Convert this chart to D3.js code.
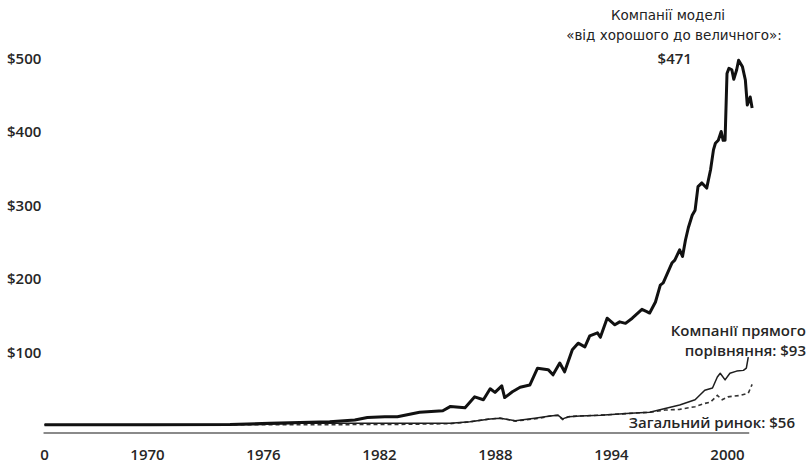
<!DOCTYPE html>
<html>
<head>
<meta charset="utf-8">
<script src="https://cdn.jsdelivr.net/npm/d3@7"></script>
<style>
  html, body { margin: 0; padding: 0; background: #fff; }
  svg { display: block; }
  .tick-label { font-family: "Open Sans", sans-serif; font-weight: 600; font-size: 15px; fill: #262626; }
  .note { font-family: "DejaVu Sans", sans-serif; font-size: 13.5px; fill: #222; }
  .note-bold { font-family: "Open Sans", sans-serif; font-weight: 600; font-size: 15px; fill: #262626; }
</style>
</head>
<body>
<svg id="chart" width="808" height="465"></svg>
<script>
// Cumulative value of $1 invested, by year
const greatYears = [1964.7, 1970.15, 1974.3, 1976.35, 1977.9, 1979.45, 1980.75, 1981.4, 1982.3, 1982.95,
  1984.1, 1985.3, 1985.7, 1986.45, 1986.95, 1987.4, 1987.75, 1988.0, 1988.35, 1988.5,
  1988.9, 1989.3, 1989.8, 1990.2, 1990.75, 1991.0, 1991.35, 1991.6, 1992.0, 1992.3,
  1992.65, 1992.9, 1993.3, 1993.45, 1993.8, 1994.2, 1994.45, 1994.75, 1995.1, 1995.6,
  1995.85, 1996.0, 1996.3, 1996.55, 1996.7, 1997.15, 1997.3, 1997.55, 1997.7, 1997.85,
  1998.0, 1998.2, 1998.35, 1998.5, 1998.7, 1998.95, 1999.15, 1999.3, 1999.4, 1999.55,
  1999.7, 1999.8, 1999.9, 2000.0, 2000.1, 2000.25, 2000.35, 2000.5, 2000.6, 2000.8,
  2000.95, 2001.05, 2001.2, 2001.3];
const greatValues = [1, 1, 1.5, 3, 4, 5, 7.5, 11, 12, 12,
  18, 20, 26, 24, 39, 35, 50, 45, 54, 38,
  46, 52, 55, 78, 76, 69, 85, 73, 103, 112,
  107, 122, 126, 120, 146, 137, 141, 139, 146, 158,
  155, 153, 168, 191, 194, 221, 225, 239, 230, 252,
  269, 286, 293, 325, 330, 323, 348, 375, 384, 388,
  400, 388, 388, 479, 486, 484, 471, 484, 497, 488,
  470, 436, 447, 432];

const comparisonYears = [1964.7, 1975.85, 1977.9, 1981.0, 1985.7, 1986.7, 1987.75, 1988.25, 1989.05, 1990.05,
  1990.85, 1991.25, 1991.5, 1991.8, 1992.4, 1993.45, 1995.0, 1996.0, 1996.8, 1997.55,
  1998.35, 1998.85, 1999.25, 1999.5, 1999.65, 1999.9, 2000.15, 2000.5, 2000.85, 2001.0, 2001.1];
const comparisonValues = [1, 1.5, 3, 3, 3, 5, 9, 10, 6.5, 10,
  13, 14, 9, 12, 13, 14, 16.5, 18, 23, 28,
  35, 48, 51, 66, 71, 62, 71, 74, 75, 78, 93];

const marketYears = [1964.7, 1977.9, 1983.1, 1985.7, 1986.7, 1987.75, 1988.25, 1989.05, 1990.35, 1990.85,
  1991.25, 1991.5, 1991.8, 1992.4, 1993.45, 1995.0, 1996.0, 1996.8, 1997.55, 1998.35,
  1998.85, 1999.15, 1999.5, 1999.75, 2000.05, 2000.7, 2001.1, 2001.3];
const marketValues = [1, 1, 1.5, 2.5, 5, 9, 10, 6, 10, 13,
  14, 8, 12, 13, 14, 16.5, 18, 21, 22, 25.6,
  30, 32, 41, 35, 39, 41, 44, 56];

const xTickValues = [1964.7, 1970, 1976, 1982, 1988, 1994, 2000];
const xTickLabels = ["0", "1970", "1976", "1982", "1988", "1994", "2000"];
const yTickValues = [100, 200, 300, 400, 500];
const yTickLabels = ["$100", "$200", "$300", "$400", "$500"];

const greatTitle = ["Компанії моделі", "«від хорошого до величного»:"];
const comparisonTitle = ["Компанії прямого", "порівняння:"];
const marketTitle = "Загальний ринок:";

const svg = d3.select("#chart");

const x = d3.scaleLinear().domain([1970, 2000]).range([147, 727]);
const y = d3.scaleLinear().domain([0, 500]).range([425.5, 58]);

const zip = (xs, vs) => xs.map((yr, i) => ({ year: yr, value: vs[i] }));
const great = zip(greatYears, greatValues);
const comparison = zip(comparisonYears, comparisonValues);
const market = zip(marketYears, marketValues);

const line = d3.line().x(d => x(d.year)).y(d => y(d.value));

// baseline under the series
svg.append("line")
  .attr("x1", x(xTickValues[0]) - 1).attr("x2", x(2001.15))
  .attr("y1", y(0) + 7.5).attr("y2", y(0) + 7.5)
  .attr("stroke", "#8a8a8a").attr("stroke-width", 1.8);

// y-axis labels (no axis line)
const yAxis = d3.axisLeft(y).tickValues(yTickValues)
  .tickFormat((d, i) => yTickLabels[i]).tickSize(0).tickPadding(0);
const yg = svg.append("g").attr("transform", "translate(7,0)").call(yAxis);
yg.select(".domain").remove();
yg.selectAll("text").attr("class", "tick-label").attr("text-anchor", "start").attr("dy", "0.35em");

// x-axis labels
const xAxis = d3.axisBottom(x).tickValues(xTickValues)
  .tickFormat((d, i) => xTickLabels[i]).tickSize(0).tickPadding(0);
const xg = svg.append("g").attr("transform", "translate(0,455)").call(xAxis);
xg.select(".domain").remove();
xg.selectAll("text").attr("class", "tick-label").attr("dy", "0.35em")
  .attr("dx", (d, i) => i === 0 ? -0.5 : 0);

// series
svg.append("path").datum(market).attr("d", line)
  .attr("fill", "none").attr("stroke", "#333").attr("stroke-width", 1.6)
  .attr("stroke-dasharray", "4,3");
svg.append("path").datum(comparison).attr("d", line)
  .attr("fill", "none").attr("stroke", "#1e1e1e").attr("stroke-width", 1.5)
  .attr("stroke-linejoin", "round");
svg.append("path").datum(great).attr("d", line)
  .attr("fill", "none").attr("stroke", "#111").attr("stroke-width", 3)
  .attr("stroke-linejoin", "round");

// annotations
const fmt = v => "$" + d3.format(",.0f")(v);
const greatMark = great[greatYears.indexOf(2000.35)];
svg.append("text").attr("class", "note").attr("text-anchor", "middle")
  .attr("x", 668).attr("y", 15).attr("dy", "0.35em").text(greatTitle[0]);
svg.append("text").attr("class", "note").attr("text-anchor", "middle")
  .attr("x", 674).attr("y", 35).attr("dy", "0.35em").text(greatTitle[1]);
svg.append("text").attr("class", "tick-label").attr("text-anchor", "middle")
  .attr("x", x(greatMark.year) - 59).attr("y", y(greatMark.value) - 21)
  .attr("dy", "0.35em").text(fmt(greatMark.value));

const compEnd = comparison[comparison.length - 1];
svg.append("text").attr("class", "note-bold").attr("text-anchor", "end")
  .attr("x", 806).attr("y", 331).attr("dy", "0.35em").text(comparisonTitle[0]);
svg.append("text").attr("class", "note-bold").attr("text-anchor", "end")
  .attr("x", 806).attr("y", 351).attr("dy", "0.35em")
  .text(comparisonTitle[1] + " " + fmt(compEnd.value));

const marketEnd = market[market.length - 1];
svg.append("text").attr("class", "note-bold").attr("text-anchor", "end")
  .attr("x", 795).attr("y", 423).attr("dy", "0.35em")
  .text(marketTitle + " " + fmt(marketEnd.value));
</script>
</body>
</html>
